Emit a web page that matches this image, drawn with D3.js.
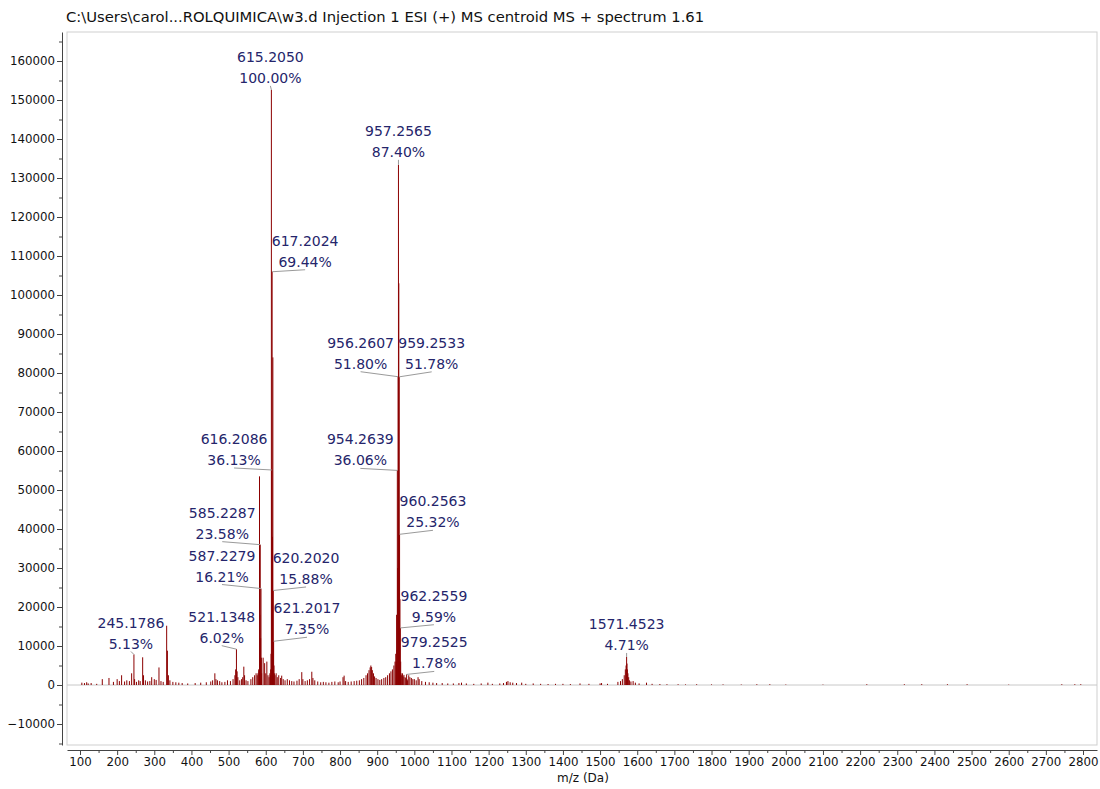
<!DOCTYPE html>
<html>
<head>
<meta charset="utf-8">
<script src="https://cdn.jsdelivr.net/npm/d3@7"></script>
<style>
body { margin: 0; background: #fff; }
svg text { font-family: "DejaVu Sans", sans-serif; }
</style>
</head>
<body>
<div id="chart"></div>
<script>
// chart data
var titleText = "C:\\Users\\carol...ROLQUIMICA\\w3.d Injection 1 ESI (+) MS centroid MS + spectrum 1.61";
var xTitle = "m/z (Da)";

var xTicks = [100, 200, 300, 400, 500, 600, 700, 800, 900, 1000, 1100, 1200, 1300, 1400,
              1500, 1600, 1700, 1800, 1900, 2000, 2100, 2200, 2300, 2400, 2500, 2600, 2700, 2800];
var yTicks = [-10000, 0, 10000, 20000, 30000, 40000, 50000, 60000, 70000, 80000,
              90000, 100000, 110000, 120000, 130000, 140000, 150000, 160000];

var basePeak = 152600; // intensity of the 100% peak

// annotated peaks
var annotMz  = [615.2050, 957.2565, 617.2024, 956.2607, 959.2533, 616.2086, 954.2639, 585.2287, 960.2563,
                587.2279, 620.2020, 962.2559, 521.1348, 621.2017, 979.2525, 245.1786, 1571.4523];
var annotPct = [100.00, 87.40, 69.44, 51.80, 51.78, 36.13, 36.06, 23.58, 25.32,
                16.21, 15.88, 9.59, 6.02, 7.35, 1.78, 5.13, 4.71];

// the other sticks [m/z, intensity]
var minorPeaks = [
  [105,600],[112,500],[118,700],[122,400],[130,500],[145,300],[160,1500],[178,1800],[190,800],
  [200,1500],[206,1000],[212,2500],[220,900],[226,1200],[233,1000],[239,3000],[247,1500],[252,800],
  [258,1200],[262,1000],[268.7,7100],[271,2500],[276,1200],[282,900],[288,1000],[293,2000],[300,1500],
  [305,1300],[312.6,4500],[318,1000],[324,800],[333.3,15200],[335.3,8800],[338,2500],[342,1200],
  [350,800],[358,700],[366,600],[375,500],[390,400],[410,500],[425,600],[440,700],[452,900],[457,1200],
  [463,3000],[466,1500],[470,1200],[476,1000],[482,700],[490,800],[497,1200],[505,1000],[512,1500],
  [517,2500],[519,4000],[523,3500],[525,2000],[530,1200],[535,1500],[538,2000],[541,4700],[543,2500],
  [547,1200],[552,1000],[560,1500],[565,2000],[570,2500],[574,3000],[577,2500],[579,3000],[581,4000],
  [582,3500],[583.23,53500],[584.23,18000],[586.23,12000],[588.23,7000],[589,3000],[593,7000],
  [597,5600],[600,3000],[603,6000],[606,2500],[609,2000],[611.2,3000],[612.2,2500],[613.2,4000],
  [614.2,8000],[618.2,38000],[619.2,84000],[622.2,5000],[623.2,3000],[625,2500],[628,3000],[631,2000],
  [635,2500],[640,1800],[643,2400],[647,1500],[652,1200],[658,1500],[664,1200],[670,1000],[676,900],
  [684,1100],[690,1500],[697,3300],[700,1500],[706,1000],[712,1200],[718,1500],[724,3400],[727,1800],
  [732,1200],[740,900],[748,700],[755,800],[762,700],[770,600],[778,800],[786,900],[795,700],[800,900],
  [808,2000],[811,2400],[815,1000],[822,800],[830,900],[838,1000],[845,1100],[852,1200],[858,1500],
  [864,1800],[870,2500],[874,3000],[878,3800],[881,4500],[883,5000],[885,4600],[887,3800],[890,3000],
  [893,2200],[897,1800],[902,1500],[907,1300],[912,1500],[918,1800],[923,2000],[928,2500],[933,3000],
  [937,3500],[941,4000],[945,5000],[948,6000],[950,8000],[951.27,6000],[952.27,18000],[953.26,9000],
  [955.26,30000],[958.26,103000],[961.26,22000],[963.25,6000],[964.3,3000],[966,2500],[968,3000],
  [970,2200],[972,2600],[975,2000],[977,1800],[980.3,1500],[981.3,1200],[985,2500],[988,2000],
  [992,1800],[996,1500],[1000,1500],[1005,1200],[1010,2000],[1013,1500],[1020,1000],[1030,800],
  [1040,700],[1050,600],[1060,500],[1075,500],[1090,400],[1105,400],[1120,500],[1127,600],[1140,400],
  [1160,300],[1180,400],[1198,600],[1210,300],[1230,400],[1240,500],[1248,800],[1252,1000],[1258,700],
  [1265,600],[1275,500],[1289,600],[1300,300],[1320,400],[1340,300],[1360,250],[1380,300],[1400,300],
  [1420,250],[1446,400],[1470,300],[1500,400],[1504,500],[1520,300],[1548,800],[1555,1000],[1560,1500],
  [1565,2500],[1568,4000],[1570,5000],[1572.5,5500],[1573.5,4000],[1575,3000],[1577,2000],[1579,1200],
  [1583,900],[1589,1000],[1595,600],[1605,400],[1625,600],[1640,300],[1661,250],[1680,200],[1710,200],
  [1730,150],[1760,200],[1800,150],[1831,150],[1880,120],[1922,200],[1957,200],[2000,120],[2100,100],
  [2218,200],[2319,200],[2366,200],[2435,200],[2488,200],[2600,100],[2743,200],[2778,200],[2794,200]
];

// label placement relative to the peak top: [dx, dy of second line]
var annotOffset = [[-1,-12],[0,-13],[33,-10],[-37.5,-13],[32.5,-13],[-37.7,-10],[-37,-10],[-38,-11],
                   [33.4,-12],[-39,-12],[32.8,-11.5],[33.6,-11.2],[-14.7,-11.5],[33.4,-12],[27.6,-11],
                   [-3,-11],[0,-12]];

function init(){
    var w = 1100;
    var h = 789;

    var svg = d3.select("#chart")
                .append("svg")
                .attr("width", w)
                .attr("height", h);

    svg.append("rect").attr("width", w).attr("height", h).attr("fill", "#fff");

    // 100 -> 80px, 2800 -> 1083px ; frame runs 67..1097
    var x0 = d3.scaleLinear().domain([100, 2800]).range([80, 1083]);
    var x = d3.scaleLinear().domain([x0.invert(67), x0.invert(1097)]).range([67, 1097]);
    // 0 -> 685px, 160000 -> 61px ; frame runs 32..745
    var y0 = d3.scaleLinear().domain([0, 160000]).range([685, 61]);
    var y = d3.scaleLinear().domain([y0.invert(745), y0.invert(32)]).range([745, 32]);

    // title
    var title = svg.append("text")
        .attr("x", 66)
        .attr("y", 22)
        .style("font-size", "14px")
        .style("fill", "#111")
        .text(titleText);
    var tw = title.node().getComputedTextLength();
    title.style("font-size", (14 * 639 / tw) + "px");

    // plot frame
    svg.append("rect")
        .attr("x", 67).attr("y", 32)
        .attr("width", 1030).attr("height", 713)
        .attr("fill", "none")
        .attr("stroke", "#cfcfcf")
        .attr("stroke-width", 1);

    // zero line
    svg.append("line")
        .attr("x1", 67).attr("x2", 1097)
        .attr("y1", y(0)).attr("y2", y(0))
        .attr("stroke", "#c8c8c8")
        .attr("stroke-width", 1);

    // axes
    var yMinor = yTicks.map(function(d){ return d + 5000; })
                       .concat([-15000])
                       .filter(function(d){ return d > y.domain()[0] && d < y.domain()[1]; });
    svg.append("g").attr("transform", "translate(62,0)")
        .call(d3.axisLeft(y).tickValues(yTicks).tickSize(5).tickPadding(2).tickSizeOuter(0)
              .tickFormat(d3.format("d")));
    svg.append("g").attr("transform", "translate(62,0)")
        .call(d3.axisLeft(y).tickValues(yMinor).tickSize(3).tickFormat("").tickSizeOuter(0))
        .select(".domain").remove();

    var xMinor = xTicks.map(function(d){ return d + 50; }).filter(function(d){ return d < x.domain()[1]; });
    svg.append("g").attr("transform", "translate(0,750)")
        .call(d3.axisBottom(x).tickValues(xTicks).tickSize(5).tickPadding(3).tickSizeOuter(0)
              .tickFormat(d3.format("d")));
    svg.append("g").attr("transform", "translate(0,750)")
        .call(d3.axisBottom(x).tickValues(xMinor).tickSize(3).tickFormat("").tickSizeOuter(0))
        .select(".domain").remove();

    svg.selectAll(".tick text")
        .style("font-family", "'DejaVu Sans', sans-serif")
        .style("font-size", "11.8px")
        .style("fill", "#111");
    svg.selectAll(".domain, .tick line").attr("stroke", "#444");

    svg.append("text")
        .attr("x", 583)
        .attr("y", 782)
        .attr("text-anchor", "middle")
        .style("font-size", "12px")
        .style("fill", "#111")
        .text(xTitle);

    // sticks
    var annotPeaks = annotMz.map(function(m, i){
        return { mz: m, inten: annotPct[i] / 100 * basePeak, pct: annotPct[i], off: annotOffset[i] };
    });
    var allPeaks = minorPeaks.map(function(p){ return { mz: p[0], inten: p[1] }; })
                             .concat(annotPeaks);

    svg.append("g")
        .selectAll("line")
        .data(allPeaks)
        .enter()
        .append("line")
        .attr("x1", function(d){ return x(d.mz); })
        .attr("x2", function(d){ return x(d.mz); })
        .attr("y1", y(0))
        .attr("y2", function(d){ return y(d.inten); })
        .attr("stroke", "#8b0000")
        .attr("stroke-width", 1);

    // leader lines
    var lab = svg.append("g");
    lab.selectAll("line")
        .data(annotPeaks)
        .enter()
        .append("line")
        .attr("x1", function(d){ return x(d.mz); })
        .attr("y1", function(d){ return y(d.inten); })
        .attr("x2", function(d){ return x(d.mz) + d.off[0]; })
        .attr("y2", function(d){ return y(d.inten) + d.off[1] + 8; })
        .attr("stroke", "#9a9a9a")
        .attr("stroke-width", 1);

    // labels
    var tg = lab.selectAll("text")
        .data(annotPeaks)
        .enter()
        .append("text")
        .attr("text-anchor", "middle")
        .style("font-size", "14px")
        .style("fill", "#25256b");
    tg.append("tspan")
        .attr("x", function(d){ return x(d.mz) + d.off[0]; })
        .attr("y", function(d){ return y(d.inten) + d.off[1] - 21; })
        .attr("dy", "0.36em")
        .text(function(d){ return d.mz.toFixed(4); });
    tg.append("tspan")
        .attr("x", function(d){ return x(d.mz) + d.off[0]; })
        .attr("y", function(d){ return y(d.inten) + d.off[1]; })
        .attr("dy", "0.36em")
        .text(function(d){ return d.pct.toFixed(2) + "%"; });
}
window.onload = init;
</script>
</body>
</html>
